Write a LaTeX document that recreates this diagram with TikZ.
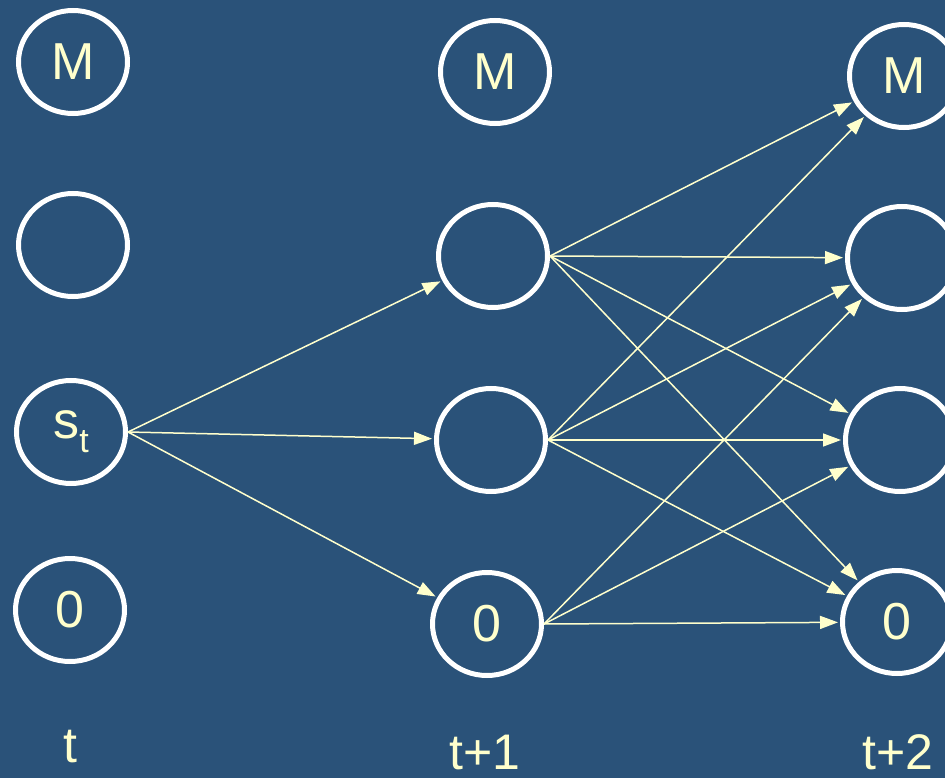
\documentclass[tikz,border=0pt]{standalone}
\usepackage{fontspec}
\setmainfont{Liberation Sans}
\usetikzlibrary{shapes.geometric, arrows.meta, positioning}
\definecolor{slateblue}{RGB}{42,82,121}
\definecolor{paleyellow}{RGB}{255,255,204}

\begin{document}
\begin{tikzpicture}[x=1pt,y=-1pt,>={Triangle[length=18pt,width=13pt]}]
    \tikzstyle{state}=[ellipse, draw=white, line width=5pt, minimum width=109pt, minimum height=103pt, inner sep=0pt, text=paleyellow, font=\fontsize{52}{60}\selectfont]
    \tikzstyle{timelabel}=[text=paleyellow, inner sep=0pt, font=\fontsize{50}{60}\selectfont]
    \tikzstyle{move}=[paleyellow, line width=1.5pt, ->, shorten >=2pt]

    % Background
    \fill[slateblue] (0,0) rectangle (945,778);
    \useasboundingbox (0,0) rectangle (945,778);

    % Column t
    \node (Mt)[state] at (73,62) {M};
    \node (at)[state] at (73,245) {};
    \node (st)[state] at (71,432) {s\raisebox{-14pt}{\fontsize{34}{34}\selectfont t}};
    \node (zt)[state] at (70,610) {0};

    % Column t+1
    \node (M1)[state] at (495,72) {M};
    \node (a1)[state] at (493,256) {};
    \node (b1)[state] at (491,440) {};
    \node (z1)[state] at (487,624) {0};

    % Column t+2
    \node (M2)[state] at (904,76) {M};
    \node (a2)[state] at (902,258) {};
    \node (b2)[state] at (900,440) {};
    \node (z2)[state] at (897,622) {0};

    % Time labels
    \node (lt)[timelabel] at (70,747) {t};
    \node (l1)[timelabel] at (485,752) {t+1};
    \node (l2)[timelabel] at (898,752) {t+2};

    % Moves from s_t
    \foreach \n in {a1,b1,z1}
        \draw[move] (st.east) -- (\n);

    % Moves from t+1 to t+2
    \foreach \n in {M2,a2,b2,z2} {
        \draw[move] (a1.east) -- (\n);
        \draw[move] (b1.east) -- (\n);
    }
    \foreach \n in {a2,b2,z2}
        \draw[move] (z1.east) -- (\n);
\end{tikzpicture}
\end{document}
